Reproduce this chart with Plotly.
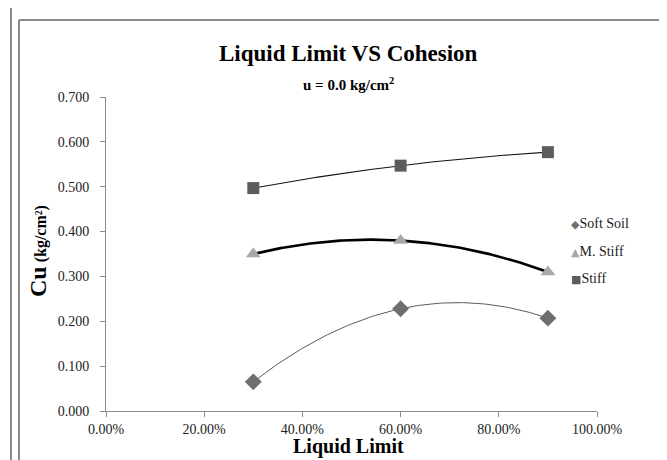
import numpy as np
import plotly.graph_objects as go

liquid_limit = [0.30, 0.60, 0.90]
soft_soil = [0.065, 0.228, 0.207]
m_stiff = [0.350, 0.380, 0.310]
stiff = [0.497, 0.547, 0.577]
series_names = ["Soft Soil", "M. Stiff", "Stiff"]

styles = [
    ("diamond", "#6e6e6e", 13, "#4a4a4a", 0.9, "◆"),
    ("triangle-up", "#a8a8a8", 13, "#000000", 2.6, "▲"),
    ("square", "#5c5c5c", 12, "#111111", 1.1, "■"),
]
values = [soft_soil, m_stiff, stiff]

FONT = "Liberation Serif, Times New Roman, serif"
fig = go.Figure()

xs = np.linspace(min(liquid_limit), max(liquid_limit), 120)
for name, vals, st in zip(series_names, values, styles):
    coef = np.polyfit(liquid_limit, vals, 2)
    fig.add_trace(go.Scatter(x=xs, y=np.polyval(coef, xs), mode="lines",
                             line=dict(color=st[3], width=st[4]), showlegend=False,
                             hoverinfo="skip"))
for name, vals, st in zip(series_names, values, styles):
    fig.add_trace(go.Scatter(x=liquid_limit, y=vals, mode="markers", name=name,
                             showlegend=False,
                             marker=dict(symbol=st[0], color=st[1], size=st[2],
                                         line=dict(width=0))))

L, R, T, B = 98, 78, 89, 57
W, H = 667, 460
pw, ph = W - L - R, H - T - B

def px(xp):
    return (xp - L) / pw

def py(yp):
    return (H - B - yp) / ph

shapes = [
    dict(type="line", xref="paper", yref="paper", x0=px(3), x1=px(3), y0=py(0), y1=py(470),
         line=dict(color="#8a8a8a", width=2)),
    dict(type="line", xref="paper", yref="paper", x0=px(11), x1=px(11), y0=py(12), y1=py(470),
         line=dict(color="#8a8a8a", width=2)),
    dict(type="line", xref="paper", yref="paper", x0=px(11), x1=px(680), y0=py(12), y1=py(12),
         line=dict(color="#8a8a8a", width=2)),
]

annotations = [
    dict(text="<b>Liquid Limit VS Cohesion</b>", xref="paper", yref="paper",
         x=px(340), y=py(46), xanchor="center", yanchor="middle", showarrow=False,
         font=dict(family=FONT, size=23, color="#000")),
    dict(text="<b>u = 0.0 kg/cm<sup>2</sup></b>", xref="paper", yref="paper",
         x=px(340), y=py(76), xanchor="center", yanchor="middle", showarrow=False,
         font=dict(family=FONT, size=15, color="#000")),
    dict(text="<b><span style='font-size:24px'>Cu</span> (kg/cm²)</b>", xref="paper", yref="paper",
         x=px(30), y=py(243), xanchor="center", yanchor="middle", showarrow=False,
         textangle=-90, font=dict(family=FONT, size=16, color="#000")),
    dict(text="<b>Liquid Limit</b>", xref="paper", yref="paper",
         x=px(340), y=py(438), xanchor="center", yanchor="middle", showarrow=False,
         font=dict(family=FONT, size=20, color="#000")),
]

legend_rows = [215, 243, 270]
for name, st, yrow in zip(series_names, styles, legend_rows):
    annotations.append(dict(
        text=f"<span style='color:{st[1]};font-family:DejaVu Sans;font-size:11px'>{st[5]}</span>{name}",
        xref="paper", yref="paper", x=px(561), y=py(yrow), xanchor="left", yanchor="middle",
        showarrow=False, font=dict(family=FONT, size=14, color="#222")))

fig.update_layout(
    width=W, height=H,
    margin=dict(l=L, r=R, t=T, b=B),
    paper_bgcolor="white", plot_bgcolor="white",
    font=dict(family=FONT, size=14, color="#222"),
    shapes=shapes, annotations=annotations,
    showlegend=False,
    xaxis=dict(range=[0, 1], tickvals=[0, 0.2, 0.4, 0.6, 0.8, 1.0], tickformat=".2%",
               showgrid=False, zeroline=False, showline=True, linecolor="#8c8c8c",
               linewidth=1, ticks="outside", ticklen=5, tickcolor="#8c8c8c",
               tickfont=dict(family=FONT, size=14, color="#222")),
    yaxis=dict(range=[0, 0.7], tickvals=[0, 0.1, 0.2, 0.3, 0.4, 0.5, 0.6, 0.7], tickformat=".3f",
               showgrid=False, zeroline=False, showline=True, linecolor="#8c8c8c",
               linewidth=1, ticks="outside", ticklen=5, tickcolor="#8c8c8c",
               ticklabelstandoff=8,
               tickfont=dict(family=FONT, size=14, color="#222")),
)

fig.write_html("out.html")
